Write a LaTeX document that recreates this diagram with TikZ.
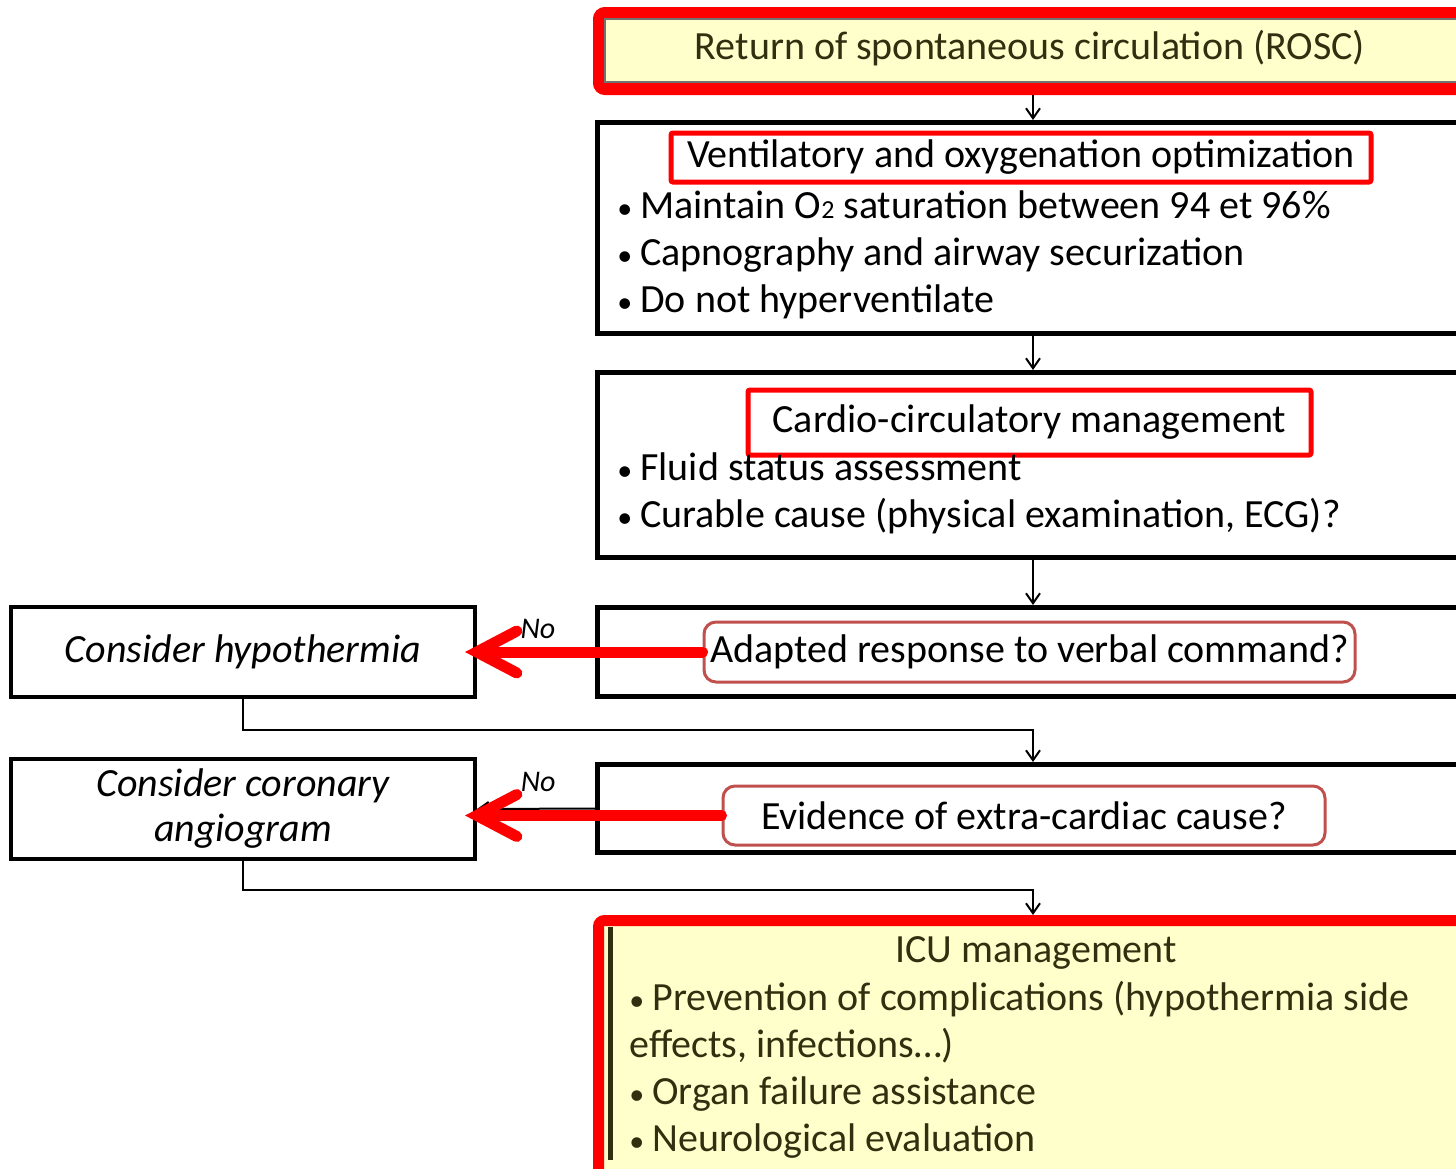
\documentclass[tikz,border=0pt]{standalone}
\usepackage{fontspec}
\setmainfont{Carlito}
\usetikzlibrary{positioning, arrows.meta}

\definecolor{alarmred}{RGB}{255,0,0}
\definecolor{paleyellow}{RGB}{255,255,204}
\definecolor{brick}{RGB}{192,80,77}
\definecolor{oliveink}{RGB}{48,48,16}

\newcommand{\bul}{{\fontsize{15}{15}\selectfont\textbullet}\hspace{4pt}}

\begin{document}
\begin{tikzpicture}[x=0.5pt, y=-0.5pt,
    every node/.style={font=\fontsize{20}{24}\selectfont},
    frame/.style={draw, line width=2.5pt, anchor=north west, minimum width=460pt, inner sep=0pt},
    sidebox/.style={draw, line width=2pt, anchor=north west, minimum width=232pt, inner sep=0pt,
        font=\fontsize{20}{22.5}\selectfont\itshape, align=center},
    titlebox/.style={draw=alarmred, line width=2.5pt, rounded corners=1pt, inner sep=0pt},
    askbox/.style={draw=brick, line width=1.5pt, rounded corners=6pt, fill=white, inner sep=0pt},
    item/.style={anchor=base west, inner sep=0pt},
    conn/.style={line width=1pt, -{Straight Barb[length=5pt, width=7pt]}},
    redarrow/.style={alarmred, line width=5.5pt, line cap=round, shorten >=-6pt,
        -{Straight Barb[length=20pt, width=21pt, line cap=round]}},
    nolbl/.style={font=\fontsize{15}{15}\selectfont\itshape, text=black, inner sep=0pt}
  ]
  \useasboundingbox (0,0) rectangle (1456,1168);
  \coordinate (spine) at (1033,0);

  % return of circulation
  \node[frame, draw=alarmred, line width=6pt, rounded corners=3pt, fill=paleyellow,
    minimum height=38pt] (rosc) at (593,7) {};
  \draw[black!55, line width=0.8pt] (605,19) rectangle (1480,82);
  \node[text=oliveink] (rosctitle) at (1030,48) {Return of spontaneous circulation (ROSC)};

  % ventilation
  \node[frame, minimum height=105.5pt] (vent) at (595,120) {};
  \node[titlebox, minimum width=350pt, minimum height=24.5pt] (venttitle) at (1021,157.5)
    {Ventilatory and oxygenation optimization};
  \foreach \txt [count=\i] in {Maintain O{\fontsize{13}{13}\selectfont 2} saturation between 94 et 96\%,
      Capnography and airway securization, Do not hyperventilate}
  {
    \node[item] (vent\i) at (617,{218+47*(\i-1)}) {\bul\txt};
  }

  % circulation
  \node[frame, minimum height=92.5pt] (cardio) at (595,370) {};
  \node[titlebox, minimum width=281.5pt, minimum height=32.5pt] (cardiotitle) at (1029.5,422.5)
    {Cardio-circulatory management};
  \foreach \txt [count=\i] in {Fluid status assessment, {Curable cause (physical examination, ECG)?}}
  {
    \node[item] (cardio\i) at (617,{480+47*(\i-1)}) {\bul\txt};
  }

  % questions
  \node[frame, minimum height=44.5pt] (adapt) at (595,605) {};
  \node[askbox, minimum width=325.5pt, minimum height=30pt] (adaptq) at (1029.5,652)
    {Adapted response to verbal command?};
  \node[frame, minimum height=44pt] (evid) at (595,762) {};
  \node[askbox, minimum width=301pt, minimum height=29.5pt] (evidq) at (1024,815.5)
    {Evidence of extra-cardiac cause?};

  % icu
  \node[frame, draw=alarmred, line width=5.5pt, rounded corners=3pt, fill=paleyellow,
    minimum height=130pt] (icu) at (593,915) {};
  \draw[oliveink, line width=2.5pt] (610,927) -- (610,1160);
  \node[anchor=base, text=oliveink] (icutitle) at (1036,962) {ICU management};
  \foreach \txt [count=\i] in {\bul Prevention of complications (hypothermia side,
      {effects, infections…)}, \bul Organ failure assistance, \bul Neurological evaluation}
  {
    \node[item, text=oliveink] (icu\i) at (629,{1010+47*(\i-1)}) {\txt};
  }

  % side boxes
  \node[sidebox, minimum height=45pt] (hypo) at (9,605) {Consider hypothermia};
  \node[sidebox, minimum height=50pt] (coro) at (9,757) {Consider coronary\\angiogram};

  % connectors
  \draw[conn] (rosc.south -| spine) -- (vent.north -| spine);
  \draw[conn] (vent.south -| spine) -- (cardio.north -| spine);
  \draw[conn] (cardio.south -| spine) -- (adapt.north -| spine);
  \draw[conn] (hypo.south) -- ++(0,31) -| (evid.north -| spine);
  \draw[conn] (coro.south) -- ++(0,29) -| (icu.north -| spine);
  \draw[conn] (evid.west) -- (coro.east);

  \draw[redarrow] (adaptq.west) -- (hypo.east)
    node[nolbl, pos=0.73, yshift=11.5pt] (no1) {No};
  \draw[redarrow] (evidq.west) -- (coro.east |- evidq.west)
    node[nolbl, pos=0.75, yshift=17pt] (no2) {No};
\end{tikzpicture}
\end{document}
